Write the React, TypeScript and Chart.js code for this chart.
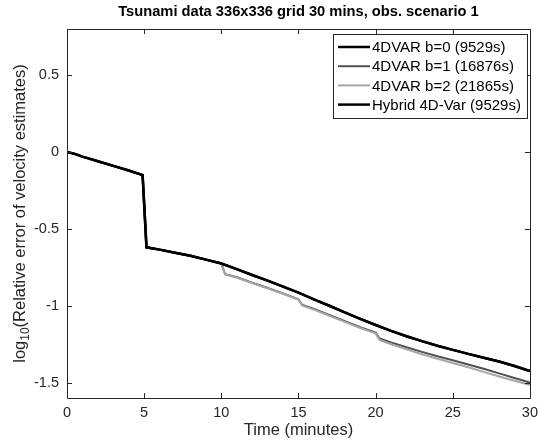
import React, { useEffect, useRef } from 'react';
import { Chart, registerables } from 'chart.js';

Chart.register(...registerables);

const FONT = "'Liberation Sans', Arial, Helvetica, sans-serif";

const TITLE = 'Tsunami data 336x336 grid 30 mins, obs. scenario 1';
const X_TITLE = 'Time (minutes)';
const Y_TITLE_PRE = 'log';
const Y_TITLE_SUB = '10';
const Y_TITLE_POST = '(Relative error of velocity estimates)';

const X_TICKS = [0, 5, 10, 15, 20, 25, 30];
const Y_TICKS = [-1.5, -1, -0.5, 0, 0.5];

const SERIES_LABELS = [
  '4DVAR b=0 (9529s)',
  '4DVAR b=1 (16876s)',
  '4DVAR b=2 (21865s)',
  'Hybrid 4D-Var (9529s)',
];
const SERIES_COLORS = ['#000000', '#505050', '#a6a6a6', '#000000'];
const SERIES_WIDTHS = [2.5, 2, 2, 2.5];

// time (minutes) for black curves
const TIME_B0 = [0, 0.5, 1, 1.5, 2, 3, 4, 4.9, 5.15, 6, 7, 8, 9, 10, 11, 12, 13, 14, 15, 16, 17, 18, 19, 20, 21, 22, 23, 24, 25, 26, 27, 28, 29, 30];
const VAL_B0 = [0, -0.012, -0.03, -0.045, -0.06, -0.09, -0.12, -0.15, -0.62, -0.635, -0.655, -0.675, -0.7, -0.725, -0.762, -0.8, -0.837, -0.876, -0.915, -0.958, -1.0, -1.043, -1.085, -1.125, -1.163, -1.198, -1.23, -1.26, -1.287, -1.313, -1.338, -1.363, -1.392, -1.425];
const TIME_HYBRID = [0, 0.5, 1, 1.5, 2, 3, 4, 4.9, 5.15, 6, 7, 8, 9, 10, 11, 12, 13, 14, 15, 16, 17, 18, 19, 20, 21, 22, 23, 24, 25, 26, 27, 28, 29, 30];
const VAL_HYBRID = [0, -0.012, -0.03, -0.045, -0.06, -0.09, -0.12, -0.15, -0.62, -0.635, -0.655, -0.675, -0.7, -0.725, -0.762, -0.8, -0.837, -0.876, -0.915, -0.958, -1.0, -1.043, -1.085, -1.125, -1.163, -1.198, -1.23, -1.26, -1.287, -1.313, -1.338, -1.363, -1.392, -1.425];

// time (minutes) for gray curves
const TIME_B1 = [0, 0.5, 1, 1.5, 2, 3, 4, 4.9, 5.15, 6, 7, 8, 9, 10, 10.25, 11, 12, 13, 14, 15, 15.25, 16, 17, 18, 19, 20, 20.25, 21, 22, 23, 24, 25, 26, 27, 28, 29, 30];
const VAL_B1 = [0, -0.012, -0.03, -0.045, -0.06, -0.09, -0.12, -0.15, -0.62, -0.635, -0.655, -0.675, -0.7, -0.725, -0.795, -0.815, -0.85, -0.885, -0.92, -0.958, -0.995, -1.02, -1.06, -1.1, -1.14, -1.175, -1.212, -1.238, -1.27, -1.3, -1.328, -1.355, -1.382, -1.41, -1.44, -1.47, -1.5];
const TIME_B2 = [0, 0.5, 1, 1.5, 2, 3, 4, 4.9, 5.15, 6, 7, 8, 9, 10, 10.25, 11, 12, 13, 14, 15, 15.25, 16, 17, 18, 19, 20, 20.25, 21, 22, 23, 24, 25, 26, 27, 28, 29, 30];
const VAL_B2 = [0, -0.012, -0.03, -0.045, -0.06, -0.09, -0.12, -0.15, -0.62, -0.635, -0.655, -0.675, -0.7, -0.725, -0.797, -0.817, -0.852, -0.887, -0.922, -0.96, -1.0, -1.025, -1.065, -1.105, -1.145, -1.18, -1.222, -1.25, -1.283, -1.315, -1.345, -1.372, -1.4, -1.43, -1.46, -1.488, -1.515];

const SERIES_TIMES = [TIME_B0, TIME_B1, TIME_B2, TIME_HYBRID];
const SERIES_VALUES = [VAL_B0, VAL_B1, VAL_B2, VAL_HYBRID];
// draw order: higher order drawn first (behind)
const SERIES_ORDER = [1, 3, 2, 0];

const AXIS_COLOR = '#262626';

const decorPlugin = {
  id: 'matlabDecor',
  afterDatasetsDraw(chart: any) {
    const { ctx, chartArea } = chart;
    const { left, right, top, bottom } = chartArea;
    const xs = chart.scales.x;
    const ys = chart.scales.y;
    ctx.save();
    // box
    ctx.strokeStyle = AXIS_COLOR;
    ctx.lineWidth = 1;
    ctx.beginPath();
    ctx.rect(Math.round(left) + 0.5, Math.round(top) + 0.5, Math.round(right - left), Math.round(bottom - top));
    ctx.stroke();
    // inward ticks
    const tl = 5;
    ctx.beginPath();
    X_TICKS.forEach((v) => {
      const px = Math.round(xs.getPixelForValue(v)) + 0.5;
      ctx.moveTo(px, bottom);
      ctx.lineTo(px, bottom - tl);
      ctx.moveTo(px, top);
      ctx.lineTo(px, top + tl);
    });
    Y_TICKS.forEach((v) => {
      const py = Math.round(ys.getPixelForValue(v)) + 0.5;
      ctx.moveTo(left, py);
      ctx.lineTo(left + tl, py);
      ctx.moveTo(right, py);
      ctx.lineTo(right - tl, py);
    });
    ctx.stroke();

    // title
    ctx.fillStyle = '#000000';
    ctx.font = `bold 14.7px ${FONT}`;
    ctx.textAlign = 'center';
    ctx.textBaseline = 'middle';
    ctx.fillText(TITLE, (left + right) / 2, 12);

    // x title
    ctx.fillStyle = AXIS_COLOR;
    ctx.font = `16.5px ${FONT}`;
    ctx.fillText(X_TITLE, (left + right) / 2, 430);

    // y title with subscript
    ctx.save();
    ctx.translate(25, (top + bottom) / 2);
    ctx.rotate(-Math.PI / 2);
    ctx.textBaseline = 'alphabetic';
    ctx.textAlign = 'left';
    ctx.font = `16.5px ${FONT}`;
    const w1 = ctx.measureText(Y_TITLE_PRE).width;
    const w3 = ctx.measureText(Y_TITLE_POST).width;
    ctx.font = `12px ${FONT}`;
    const w2 = ctx.measureText(Y_TITLE_SUB).width;
    const total = w1 + w2 + w3;
    let cx = -total / 2;
    ctx.font = `16.5px ${FONT}`;
    ctx.fillText(Y_TITLE_PRE, cx, 0);
    cx += w1;
    ctx.font = `12px ${FONT}`;
    ctx.fillText(Y_TITLE_SUB, cx, 4);
    cx += w2;
    ctx.font = `16.5px ${FONT}`;
    ctx.fillText(Y_TITLE_POST, cx, 0);
    ctx.restore();

    // legend
    const lx = 333;
    const ly = 34;
    const lw = 194;
    const lh = 84;
    ctx.fillStyle = '#ffffff';
    ctx.fillRect(lx, ly, lw, lh);
    ctx.strokeStyle = AXIS_COLOR;
    ctx.lineWidth = 1;
    ctx.strokeRect(lx + 0.5, ly + 0.5, lw, lh);
    ctx.font = `15px ${FONT}`;
    ctx.textAlign = 'left';
    ctx.textBaseline = 'middle';
    SERIES_LABELS.forEach((lab, i) => {
      const y = ly + 13 + i * 19.2;
      ctx.strokeStyle = SERIES_COLORS[i];
      ctx.lineWidth = SERIES_WIDTHS[i];
      ctx.beginPath();
      ctx.moveTo(lx + 5, y);
      ctx.lineTo(lx + 37, y);
      ctx.stroke();
      ctx.fillStyle = '#000000';
      ctx.fillText(lab, lx + 39, y + 1);
    });
    ctx.restore();
  },
};

export default function App() {
  const ref = useRef<HTMLCanvasElement>(null);
  useEffect(() => {
    document.body.style.margin = '0';
    const datasets = SERIES_LABELS.map((label, i) => ({
      label,
      data: SERIES_TIMES[i].map((t, j) => ({ x: t, y: SERIES_VALUES[i][j] })),
      borderColor: SERIES_COLORS[i],
      backgroundColor: SERIES_COLORS[i],
      borderWidth: SERIES_WIDTHS[i],
      pointRadius: 0,
      tension: 0,
      fill: false,
      order: SERIES_ORDER[i],
    }));
    const chart = new Chart(ref.current as HTMLCanvasElement, {
      type: 'line',
      data: { datasets },
      options: {
        responsive: false,
        animation: false,
        layout: { padding: { left: 0, right: 14, top: 29, bottom: 0 } },
        plugins: {
          legend: { display: false },
          title: { display: false },
          tooltip: { enabled: false },
        },
        scales: {
          x: {
            type: 'linear',
            min: 0,
            max: 30,
            grid: { display: false, drawTicks: false },
            border: { display: false },
            afterBuildTicks: (scale: any) => {
              scale.ticks = X_TICKS.map((v) => ({ value: v }));
            },
            afterFit: (scale: any) => {
              scale.height = 47;
            },
            ticks: {
              padding: 6,
              color: AXIS_COLOR,
              font: { family: FONT, size: 14.5 },
              maxRotation: 0,
              callback: (v: any) => String(v),
            },
          },
          y: {
            type: 'linear',
            min: -1.6,
            max: 0.8,
            grid: { display: false, drawTicks: false },
            border: { display: false },
            afterBuildTicks: (scale: any) => {
              scale.ticks = Y_TICKS.map((v) => ({ value: v }));
            },
            afterFit: (scale: any) => {
              scale.width = 67;
            },
            ticks: {
              padding: 8,
              color: AXIS_COLOR,
              font: { family: FONT, size: 14.5 },
              callback: (v: any) => String(v),
            },
          },
        },
      },
      plugins: [decorPlugin],
    });
    return () => chart.destroy();
  }, []);
  return (
    <div style={{ position: 'absolute', left: 0, top: 0, width: 544, height: 445 }}>
      <canvas ref={ref} width={544} height={445} style={{ display: 'block' }} />
    </div>
  );
}
